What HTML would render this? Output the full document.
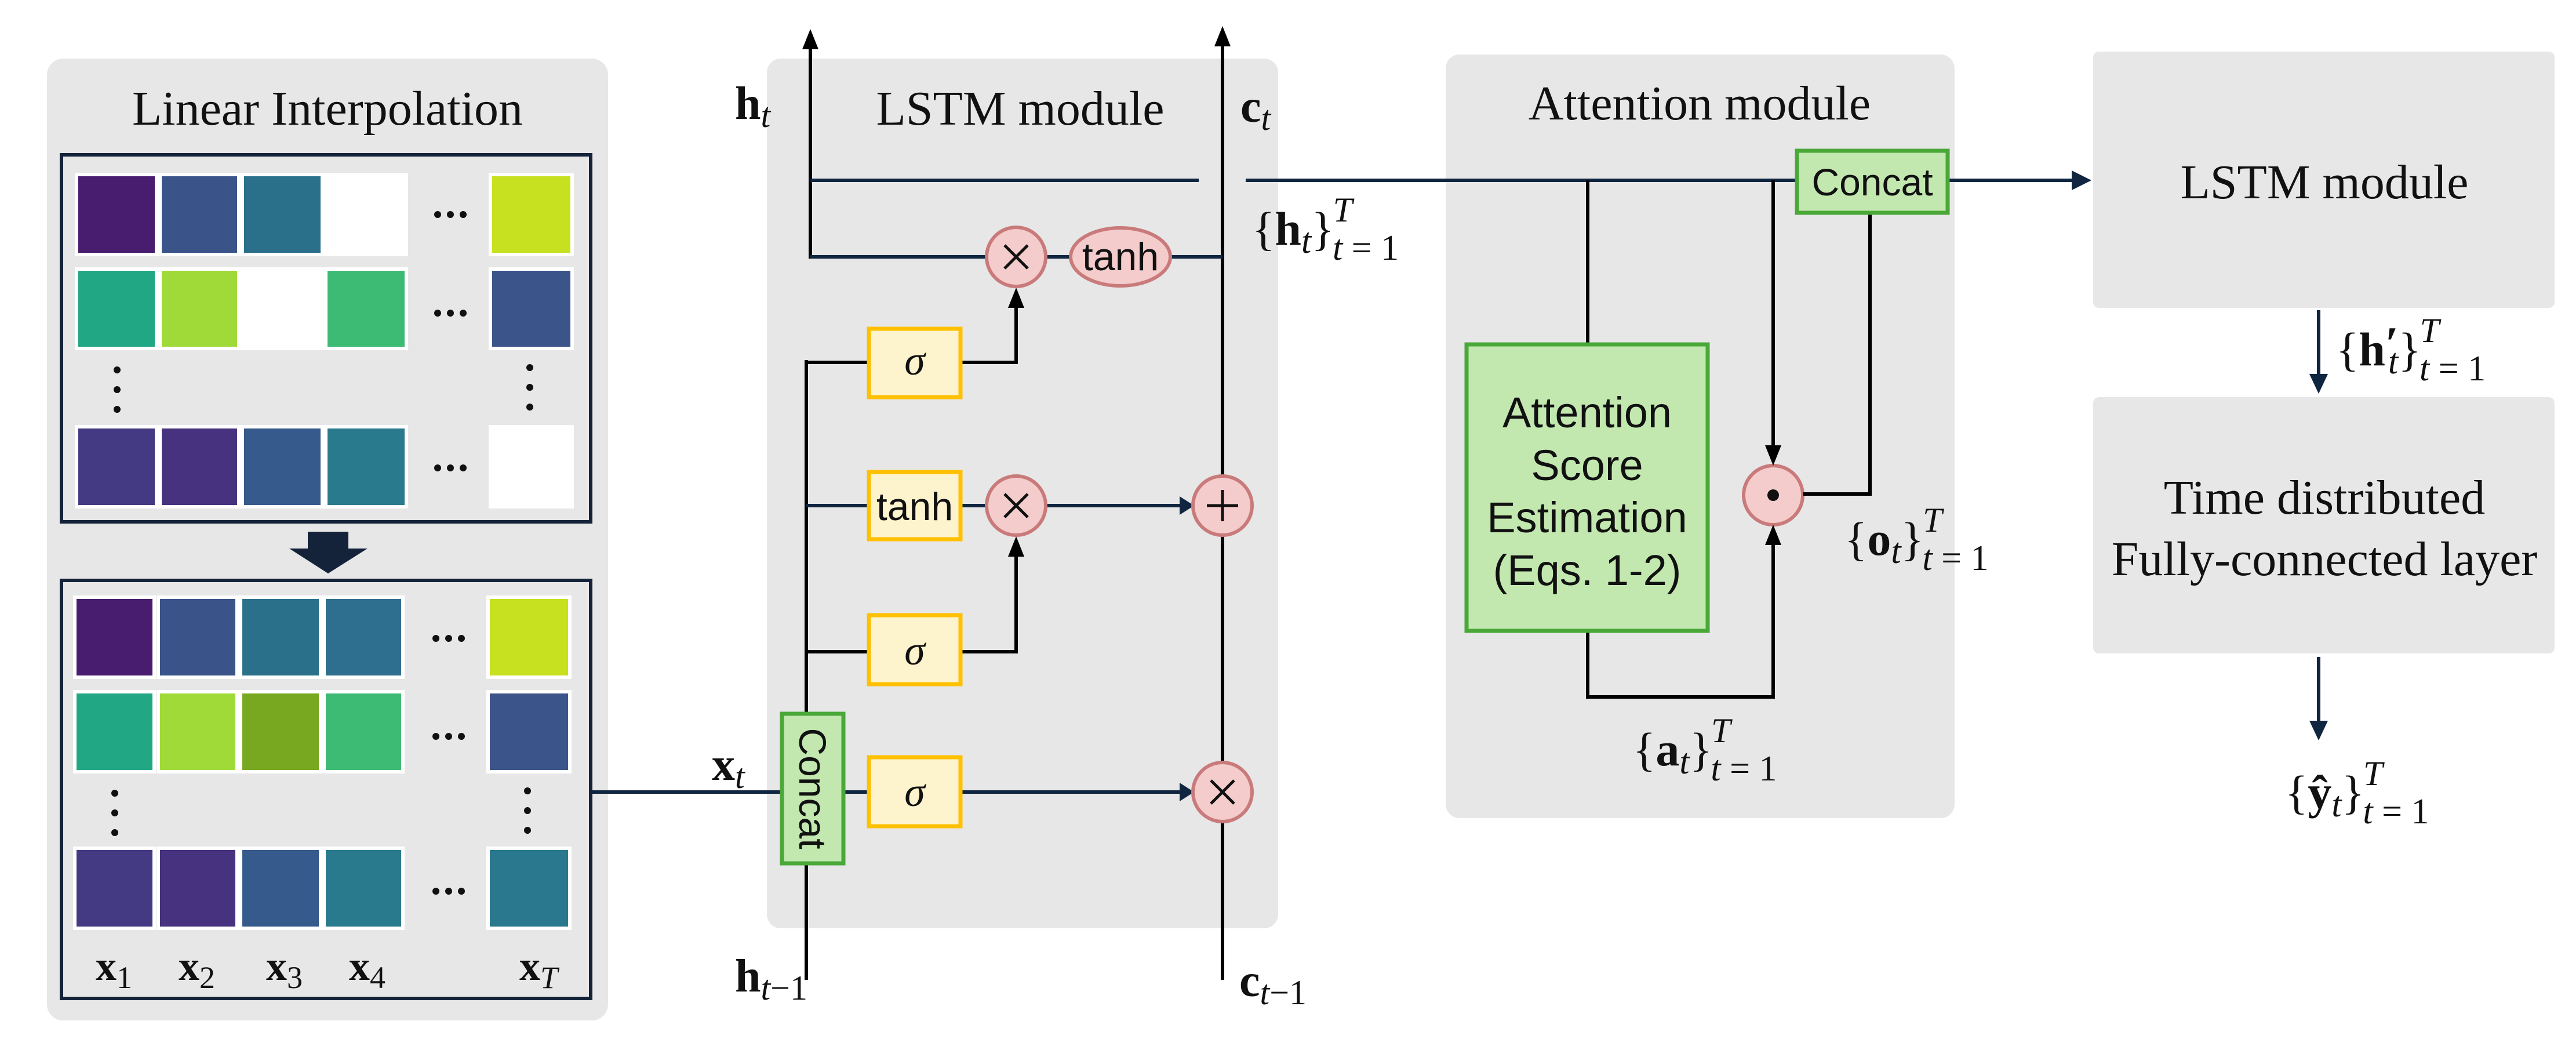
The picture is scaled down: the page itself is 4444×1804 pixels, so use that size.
<!DOCTYPE html>
<html><head><meta charset="utf-8"><style>
html,body{margin:0;padding:0;background:#fff;}
svg{display:block;}
.serif{font-family:"Liberation Serif",serif;}
.sans{font-family:"Liberation Sans","DejaVu Sans",sans-serif;}
</style></head><body>
<svg width="4444" height="1804" viewBox="0 0 4444 1804" xmlns="http://www.w3.org/2000/svg">
<!-- panels -->
<rect x="81" y="101" width="968" height="1659" rx="28" fill="#e7e7e7"/>
<rect x="1323" y="101" width="882" height="1500" rx="24" fill="#e7e7e7"/>
<rect x="2494" y="94" width="878" height="1317" rx="24" fill="#e7e7e7"/>
<rect x="3611" y="89" width="796" height="442" rx="10" fill="#e7e7e7"/>
<rect x="3611" y="685" width="796" height="442" rx="10" fill="#e7e7e7"/>

<g class="serif" font-size="84" fill="#111" text-anchor="middle">
<text x="565" y="215">Linear Interpolation</text>
<text x="1760" y="215">LSTM module</text>
<text x="2932" y="206">Attention module</text>
<text x="4010" y="342">LSTM module</text>
<text x="4010" y="886">Time distributed</text>
<text x="4010" y="992">Fully-connected  layer</text>
</g>

<!-- grids -->
<rect x="106" y="267" width="913" height="633" fill="none" stroke="#14233a" stroke-width="6"/>
<rect x="106" y="1001" width="913" height="721" fill="none" stroke="#14233a" stroke-width="6"/>
<g stroke="#fff" stroke-width="6">
<rect x="132" y="301" width="138" height="138" fill="#481c6e"/>
<rect x="276" y="301" width="136" height="138" fill="#3a548a"/>
<rect x="418" y="301" width="138" height="138" fill="#2a708b"/>
<rect x="562" y="301" width="139" height="138" fill="#ffffff"/>
<rect x="846" y="301" width="141" height="138" fill="#c7e01f"/>
<rect x="132" y="464" width="138" height="137" fill="#22a785"/>
<rect x="276" y="464" width="136" height="137" fill="#a0da39"/>
<rect x="418" y="464" width="138" height="137" fill="#ffffff"/>
<rect x="562" y="464" width="139" height="137" fill="#3dbb74"/>
<rect x="846" y="464" width="141" height="137" fill="#3b558b"/>
<rect x="132" y="736" width="138" height="138" fill="#443a83"/>
<rect x="276" y="736" width="136" height="138" fill="#46327e"/>
<rect x="418" y="736" width="138" height="138" fill="#375a8c"/>
<rect x="562" y="736" width="139" height="138" fill="#2a7a8e"/>
<rect x="846" y="736" width="141" height="138" fill="#ffffff"/>

<rect x="129" y="1030" width="137" height="138" fill="#481c6e"/>
<rect x="273" y="1030" width="136" height="138" fill="#3a548a"/>
<rect x="415" y="1030" width="138" height="138" fill="#2a708b"/>
<rect x="559" y="1030" width="136" height="138" fill="#2e6e8e"/>
<rect x="842" y="1030" width="141" height="138" fill="#c7e01f"/>
<rect x="129" y="1193" width="137" height="138" fill="#22a785"/>
<rect x="273" y="1193" width="136" height="138" fill="#a0da39"/>
<rect x="415" y="1193" width="138" height="138" fill="#77a820"/>
<rect x="559" y="1193" width="136" height="138" fill="#3dbb74"/>
<rect x="842" y="1193" width="141" height="138" fill="#3b558b"/>
<rect x="129" y="1463" width="137" height="138" fill="#443a83"/>
<rect x="273" y="1463" width="136" height="138" fill="#46327e"/>
<rect x="415" y="1463" width="138" height="138" fill="#375a8c"/>
<rect x="559" y="1463" width="136" height="138" fill="#2a7a8e"/>
<rect x="842" y="1463" width="141" height="138" fill="#2a788e"/>
</g>
<g fill="#111">
<circle cx="755" cy="370" r="6"/><circle cx="777" cy="370" r="6"/><circle cx="799" cy="370" r="6"/>
<circle cx="755" cy="540" r="6"/><circle cx="777" cy="540" r="6"/><circle cx="799" cy="540" r="6"/>
<circle cx="755" cy="807" r="6"/><circle cx="777" cy="807" r="6"/><circle cx="799" cy="807" r="6"/>
<circle cx="752" cy="1101" r="6"/><circle cx="774" cy="1101" r="6"/><circle cx="796" cy="1101" r="6"/>
<circle cx="752" cy="1270" r="6"/><circle cx="774" cy="1270" r="6"/><circle cx="796" cy="1270" r="6"/>
<circle cx="752" cy="1537" r="6"/><circle cx="774" cy="1537" r="6"/><circle cx="796" cy="1537" r="6"/>
<circle cx="202" cy="638" r="6"/><circle cx="202" cy="672" r="6"/><circle cx="202" cy="706" r="6"/>
<circle cx="914" cy="634" r="6"/><circle cx="914" cy="668" r="6"/><circle cx="914" cy="702" r="6"/>
<circle cx="198" cy="1368" r="6"/><circle cx="198" cy="1402" r="6"/><circle cx="198" cy="1436" r="6"/>
<circle cx="910" cy="1364" r="6"/><circle cx="910" cy="1398" r="6"/><circle cx="910" cy="1432" r="6"/>
</g>
<polygon points="531,917 601,917 601,946 634,946 566,989 499,946 531,946" fill="#14233a"/>

<g class="serif" font-size="72" fill="#111">
<text x="165" y="1690" font-weight="bold">x<tspan font-size="54" font-weight="normal" dy="14">1</tspan></text>
<text x="308" y="1690" font-weight="bold">x<tspan font-size="54" font-weight="normal" dy="14">2</tspan></text>
<text x="459" y="1690" font-weight="bold">x<tspan font-size="54" font-weight="normal" dy="14">3</tspan></text>
<text x="602" y="1690" font-weight="bold">x<tspan font-size="54" font-weight="normal" dy="14">4</tspan></text>
<text x="896" y="1690" font-weight="bold">x<tspan font-size="54" font-weight="normal" font-style="italic" dy="14">T</tspan></text>
</g>

<!-- LSTM lines -->
<g fill="none" stroke-width="6">
<line x1="1398" y1="80" x2="1398" y2="446" stroke="#000"/>
<line x1="1391" y1="621" x2="1391" y2="1690" stroke="#000"/>
<line x1="2109" y1="75" x2="2109" y2="1690" stroke="#000"/>
<line x1="1398" y1="311" x2="2068" y2="311" stroke="#0f2540"/>
<line x1="2149" y1="311" x2="3580" y2="311" stroke="#0f2540"/>
<line x1="1398" y1="443" x2="2109" y2="443" stroke="#0f2540"/>
<polyline points="1391,625 1500,625" stroke="#000"/>
<polyline points="1660,625 1753,625 1753,520" stroke="#000"/>
<line x1="1391" y1="872" x2="2070" y2="872" stroke="#0f2540"/>
<polyline points="1391,1124 1500,1124" stroke="#000"/>
<polyline points="1660,1124 1753,1124 1753,950" stroke="#000"/>
<line x1="1019" y1="1366" x2="2070" y2="1366" stroke="#0f2540"/>
</g>
<g fill="#000">
<polygon points="1398,50 1384,85 1412,85"/>
<polygon points="2109,45 2095,80 2123,80"/>
<polygon points="1753,496 1739,531 1767,531"/>
<polygon points="1753,925 1739,960 1767,960"/>
<polygon points="2035,856 2035,888 2060,872" fill="#0f2540"/>
<polygon points="2035,1350 2035,1382 2060,1366" fill="#0f2540"/>
</g>
<g stroke="#ffc000" stroke-width="7" fill="#fdf3cc">
<rect x="1499" y="567" width="158" height="118"/>
<rect x="1499" y="814" width="158" height="116"/>
<rect x="1499" y="1061" width="158" height="119"/>
<rect x="1499" y="1306" width="158" height="119"/>
</g>
<g class="serif" font-style="italic" font-size="72" fill="#111" text-anchor="middle">
<text x="1578" y="646">σ</text><text x="1578" y="1146">σ</text><text x="1578" y="1390">σ</text>
</g>
<text class="sans" x="1578" y="897" font-size="68" text-anchor="middle" fill="#111">tanh</text>
<rect x="1349" y="1231" width="106" height="258" fill="#c2e8b0" stroke="#4aa838" stroke-width="7"/>
<text class="sans" font-size="66" fill="#111" text-anchor="middle" transform="translate(1379,1360) rotate(90)">Concat</text>
<g fill="#f4cccc" stroke="#c97a7a" stroke-width="6">
<circle cx="1753" cy="443" r="51"/>
<ellipse cx="1933" cy="443" rx="86" ry="50"/>
<circle cx="1753" cy="872" r="51"/>
<circle cx="2109" cy="872" r="51"/>
<circle cx="2109" cy="1366" r="51"/>
<circle cx="3059" cy="854" r="51"/>
</g>
<g stroke="#111" stroke-width="5">
<line x1="1733" y1="423" x2="1773" y2="463"/><line x1="1773" y1="423" x2="1733" y2="463"/>
<line x1="1733" y1="852" x2="1773" y2="892"/><line x1="1773" y1="852" x2="1733" y2="892"/>
<line x1="2089" y1="1346" x2="2129" y2="1386"/><line x1="2129" y1="1346" x2="2089" y2="1386"/>
<line x1="2082" y1="872" x2="2136" y2="872"/><line x1="2109" y1="845" x2="2109" y2="899"/>
</g>
<circle cx="3059" cy="854" r="10" fill="#111"/>
<text class="sans" x="1933" y="466" font-size="68" text-anchor="middle" fill="#111">tanh</text>

<g class="serif" fill="#111">
<text x="1268" y="205" font-size="80" font-weight="bold">h<tspan font-size="60" font-weight="normal" font-style="italic" dy="14">t</tspan></text>
<text x="2140" y="210" font-size="80" font-weight="bold">c<tspan font-size="60" font-weight="normal" font-style="italic" dy="14">t</tspan></text>
<text x="1228" y="1345" font-size="80" font-weight="bold">x<tspan font-size="60" font-weight="normal" font-style="italic" dy="14">t</tspan></text>
<text x="1268" y="1710" font-size="80" font-weight="bold">h<tspan font-size="60" font-weight="normal" font-style="italic" dy="14">t</tspan><tspan font-size="60" font-weight="normal">−1</tspan></text>
<text x="2138" y="1718" font-size="80" font-weight="bold">c<tspan font-size="60" font-weight="normal" font-style="italic" dy="14">t</tspan><tspan font-size="60" font-weight="normal">−1</tspan></text>
</g>

<!-- attention -->
<g fill="none" stroke-width="6">
<line x1="2739" y1="311" x2="2739" y2="592" stroke="#000"/>
<line x1="3059" y1="311" x2="3059" y2="770" stroke="#000"/>
<polyline points="3226,369 3226,852 3111,852" stroke="#000"/>
<polyline points="2739,1090 2739,1202 3059,1202 3059,940" stroke="#000"/>
<line x1="3362" y1="311" x2="3580" y2="311" stroke="#0f2540"/>
<line x1="4000" y1="535" x2="4000" y2="650" stroke="#0f2540"/>
<line x1="4000" y1="1133" x2="4000" y2="1250" stroke="#0f2540"/>
</g>
<polygon points="3059,803 3045,768 3073,768" fill="#000"/>
<polygon points="3059,905 3045,940 3073,940" fill="#000"/>
<polygon points="3608,311 3574,294 3574,328" fill="#0f2540"/>
<polygon points="4000,679 3984,645 4016,645" fill="#0f2540"/>
<polygon points="4000,1277 3984,1243 4016,1243" fill="#0f2540"/>
<rect x="3100" y="260" width="260" height="107" fill="#c2e8b0" stroke="#4aa838" stroke-width="7"/>
<text class="sans" x="3230" y="337" font-size="66" text-anchor="middle" fill="#111">Concat</text>
<rect x="2530" y="594" width="416" height="494" fill="#c2e8b0" stroke="#4aa838" stroke-width="7"/>
<g class="sans" font-size="74" fill="#111" text-anchor="middle">
<text x="2738" y="737">Attention</text>
<text x="2738" y="828">Score</text>
<text x="2738" y="918">Estimation</text>
<text x="2738" y="1009">(Eqs. 1-2)</text>
</g>

<g class="serif" fill="#111" font-size="82">
<text x="2160" y="422">{<tspan font-weight="bold">h</tspan><tspan font-size="62" font-style="italic" dy="14">t</tspan><tspan dy="-14">}</tspan><tspan font-size="60" font-style="italic" dx="-2" dy="-40">T</tspan><tspan font-size="62" dx="-34" dy="66"><tspan font-style="italic">t</tspan> = 1</tspan></text>
<text x="3182" y="957">{<tspan font-weight="bold">o</tspan><tspan font-size="62" font-style="italic" dy="14">t</tspan><tspan dy="-14">}</tspan><tspan font-size="60" font-style="italic" dx="-2" dy="-40">T</tspan><tspan font-size="62" dx="-34" dy="66"><tspan font-style="italic">t</tspan> = 1</tspan></text>
<text x="2817" y="1320">{<tspan font-weight="bold">a</tspan><tspan font-size="62" font-style="italic" dy="14">t</tspan><tspan dy="-14">}</tspan><tspan font-size="60" font-style="italic" dx="-2" dy="-40">T</tspan><tspan font-size="62" dx="-34" dy="66"><tspan font-style="italic">t</tspan> = 1</tspan></text>
<text x="4030" y="630">{<tspan font-weight="bold">h</tspan><tspan font-weight="bold" dy="-10">′</tspan><tspan font-size="62" font-style="italic" dx="-18" dy="24">t</tspan><tspan dy="-14">}</tspan><tspan font-size="60" font-style="italic" dx="-2" dy="-40">T</tspan><tspan font-size="62" dx="-34" dy="66"><tspan font-style="italic">t</tspan> = 1</tspan></text>
<text x="3942" y="1394">{<tspan font-weight="bold">ŷ</tspan><tspan font-size="62" font-style="italic" dy="14">t</tspan><tspan dy="-14">}</tspan><tspan font-size="60" font-style="italic" dx="-2" dy="-40">T</tspan><tspan font-size="62" dx="-34" dy="66"><tspan font-style="italic">t</tspan> = 1</tspan></text>
</g>
</svg>
</body></html>
